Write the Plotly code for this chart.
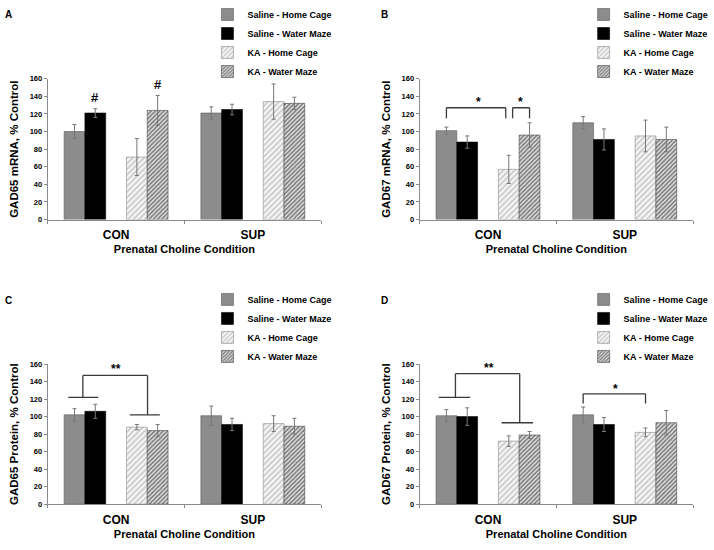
import plotly.graph_objects as go

CONDITIONS = ['CON', 'SUP']
GROUPS = ['Saline - Home Cage', 'Saline - Water Maze',
          'KA - Home Cage', 'KA - Water Maze']

# means per group, as [CON, SUP]
GAD65_MRNA = [[100, 121], [121, 125], [71, 134], [124, 132]]
GAD65_MRNA_ERR = [[8, 7], [5, 6], [21, 20], [17, 7]]
GAD67_MRNA = [[101, 110], [88, 91], [57, 95], [96, 91]]
GAD67_MRNA_ERR = [[4, 7], [7, 12], [16, 18], [14, 14]]
GAD65_PROT = [[102, 101], [106, 91], [88, 92], [84, 89]]
GAD65_PROT_ERR = [[7, 11], [8, 7], [3, 9], [7, 9]]
GAD67_PROT = [[101, 102], [100, 91], [72, 82], [79, 93]]
GAD67_PROT_ERR = [[7, 9], [10, 8], [6, 5], [4, 14]]

FONT = 'Liberation Sans, Arial, sans-serif'
AXIS_GREY = '#8a8a8a'

STYLES = [
    dict(color='#8c8c8c', line=dict(color='#5a5a5a', width=0.6)),
    dict(color='black', line=dict(color='black', width=0.6)),
    dict(color='white', line=dict(color='#8a8a8a', width=0.6),
         pattern=dict(shape='/', fgcolor='#989898', bgcolor='#f6f6f6',
                      size=4, solidity=0.4)),
    dict(color='white', line=dict(color='#444444', width=0.6),
         pattern=dict(shape='/', fgcolor='#111111', bgcolor='#eeeeee',
                      size=3, solidity=0.6)),
]

# panel letter, y title, means, errors, x domain, y domain
PANELS = [
    ('A', 'GAD65 mRNA, % Control', GAD65_MRNA, GAD65_MRNA_ERR,
     [0.0672, 0.4524], [0.6049, 0.8667]),
    ('B', 'GAD67 mRNA, % Control', GAD67_MRNA, GAD67_MRNA_ERR,
     [0.5910, 0.9762], [0.6049, 0.8667]),
    ('C', 'GAD65 Protein, % Control', GAD65_PROT, GAD65_PROT_ERR,
     [0.0672, 0.4524], [0.0758, 0.3364]),
    ('D', 'GAD67 Protein, % Control', GAD67_PROT, GAD67_PROT_ERR,
     [0.5910, 0.9762], [0.0758, 0.3364]),
]

BARGAP = 0.24


def slot(cat, i):
    """Centre of bar slot i (0-4, 2 is the gap) in category cat"""
    w = (1 - BARGAP) / 5
    return cat - (1 - BARGAP) / 2 + (i + 0.5) * w


fig = go.Figure()

for n, (letter, ytitle, means, errs, xdom, ydom) in enumerate(PANELS, 1):
    sfx = '' if n == 1 else str(n)
    leg = 'legend' if n == 1 else f'legend{n}'
    for g, name in enumerate(GROUPS):
        if g == 2:
            # empty slot between saline and KA bars
            fig.add_trace(go.Bar(
                x=CONDITIONS, y=[0, 0], showlegend=False,
                marker=dict(color='white', line=dict(width=0)),
                hoverinfo='skip', xaxis='x' + sfx, yaxis='y' + sfx
            ))
        fig.add_trace(go.Bar(
            x=CONDITIONS, y=means[g], name=name,
            marker=STYLES[g], legend=leg,
            error_y=dict(type='data', array=errs[g], color='#777777',
                         thickness=1, width=2),
            xaxis='x' + sfx, yaxis='y' + sfx
        ))

    fig.update_layout({
        'xaxis' + sfx: dict(
            domain=xdom, anchor='y' + sfx, showline=True,
            linecolor=AXIS_GREY, ticks='outside', tickson='boundaries',
            ticklen=3, tickcolor=AXIS_GREY, ticklabelstandoff=4,
            tickfont=dict(family=FONT, size=12, color='black',
                          weight='bold'),
            title=dict(text='Prenatal Choline Condition', standoff=4,
                       font=dict(family=FONT, size=11, color='black',
                                 weight='bold')),
        ),
        'yaxis' + sfx: dict(
            domain=ydom, anchor='x' + sfx, range=[0, 160], dtick=20,
            showline=True, linecolor=AXIS_GREY, ticks='outside',
            ticklen=3, tickcolor=AXIS_GREY, showgrid=False, zeroline=False,
            tickfont=dict(family=FONT, size=7.5, color='black',
                          weight='bold'),
            title=dict(text=ytitle, standoff=8,
                       font=dict(family=FONT, size=11.5, color='black',
                                 weight='bold')),
        ),
        leg: dict(
            x=xdom[0] + 0.225 if n % 2 else xdom[0] + 0.231,
            y=ydom[1] + 0.147, xanchor='left', yanchor='top',
            bgcolor='rgba(0,0,0,0)', itemwidth=30,
            font=dict(family=FONT, size=9, color='black', weight='bold'),
        ),
    })

    fig.add_annotation(
        text=letter, xref='paper', yref='paper',
        x=0.0126 if n % 2 else 0.542, y=ydom[1] + 0.1185,
        showarrow=False, xanchor='center', yanchor='middle',
        font=dict(family=FONT, size=10, color='black', weight='bold')
    )


def bracket(n, segs):
    sfx = '' if n == 1 else str(n)
    for x0, y0, x1, y1 in segs:
        fig.add_shape(type='line', x0=x0, y0=y0, x1=x1, y1=y1,
                      xref='x' + sfx, yref='y' + sfx,
                      line=dict(color='#3a3a3a', width=1.3))


def mark(n, text, x, y, size=12):
    sfx = '' if n == 1 else str(n)
    fig.add_annotation(text=text, x=x, y=y, xref='x' + sfx, yref='y' + sfx,
                       showarrow=False, yanchor='middle',
                       font=dict(family=FONT, size=size, color='black',
                                 weight='bold'))


# A: hash marks over water maze bars
mark(1, '#', slot(0, 1), 139, size=13)
mark(1, '#', slot(0, 4), 153, size=13)

# B: two brackets
bracket(2, [(slot(0, 0), 127, 0.13, 127), (slot(0, 0), 127, slot(0, 0), 115),
            (0.13, 127, 0.13, 115),
            (0.18, 127, slot(0, 4), 127), (0.18, 127, 0.18, 115),
            (slot(0, 4), 127, slot(0, 4), 115)])
mark(2, '*', -0.07, 133)
mark(2, '*', 0.24, 133)

# C: saline vs KA in CON
bracket(3, [(-0.35, 122, -0.13, 122), (-0.243, 122, -0.243, 147),
            (-0.243, 147, 0.23, 147), (0.23, 147, 0.23, 102),
            (0.10, 102, 0.32, 102)])
mark(3, '**', 0.0, 154)

# D: saline vs KA in CON, and in SUP
bracket(4, [(-0.36, 122, -0.13, 122), (-0.238, 122, -0.238, 149),
            (-0.238, 149, 0.232, 149), (0.232, 149, 0.232, 93),
            (0.10, 93, 0.33, 93)])
mark(4, '**', 0.01, 156)
bracket(4, [(slot(1, 0), 126, slot(1, 3), 126),
            (slot(1, 0), 126, slot(1, 0), 115),
            (slot(1, 3), 126, slot(1, 3), 115)])
mark(4, '*', 0.93, 132)

fig.update_layout(
    width=714, height=550,
    margin=dict(l=0, r=0, t=0, b=0),
    barmode='group', bargap=BARGAP, bargroupgap=0,
    plot_bgcolor='white', paper_bgcolor='white',
    font=dict(family=FONT, color='black'),
)

# drop the default page margin so the figure sits at the window corner
fig.write_html('out.html', config={'displayModeBar': False},
               post_script='document.body.style.margin = "0";')
